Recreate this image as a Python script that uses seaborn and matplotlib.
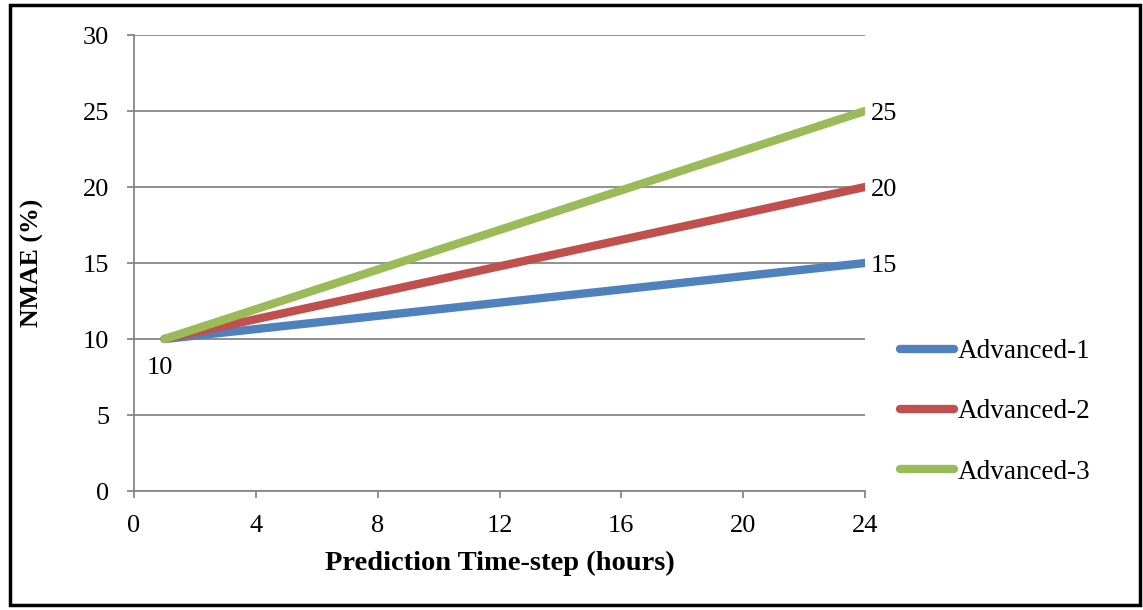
import matplotlib
matplotlib.use("Agg")
import matplotlib.pyplot as plt
import seaborn as sns
import pandas as pd
from matplotlib.patches import Rectangle
from matplotlib.lines import Line2D

# Data
x_hours = [1, 24]
series_names = ["Advanced-1", "Advanced-2", "Advanced-3"]
adv1 = [10, 15]
adv2 = [10, 20]
adv3 = [10, 25]
colors = ["#4F81BD", "#C0504D", "#9BBB59"]
x_ticks = [0, 4, 8, 12, 16, 20, 24]
y_ticks = [0, 5, 10, 15, 20, 25, 30]

rows = []
for name, vals in zip(series_names, [adv1, adv2, adv3]):
    for xv, yv in zip(x_hours, vals):
        rows.append({"x": xv, "y": yv, "series": name})
df = pd.DataFrame(rows)

sns.set_theme(style="white")
plt.rcParams["font.family"] = ["Liberation Serif", "DejaVu Serif"]
plt.rcParams["text.color"] = "black"

FS = 19
W, H = 1143, 610
fig = plt.figure(figsize=(W / 100, H / 100), dpi=100)
ax = fig.add_axes([134 / W, 1 - 491 / H, (865 - 134) / W, (491 - 35) / H])

sns.lineplot(data=df, x="x", y="y", hue="series", palette=colors, ax=ax,
             linewidth=6, solid_capstyle="round", legend=False)

ax.set_xlim(0, 24)
ax.set_ylim(0, 30)
ax.set_xticks(x_ticks)
ax.set_yticks(y_ticks)
grid_c = "#878787"
ax.yaxis.grid(True, color=grid_c, linewidth=1.3)
ax.set_axisbelow(True)
for s in ["top", "right"]:
    ax.spines[s].set_visible(False)
for s in ["left", "bottom"]:
    ax.spines[s].set_color(grid_c)
    ax.spines[s].set_linewidth(1.3)
ax.tick_params(axis="both", which="both", bottom=True, left=True, length=5, width=1.3,
               color=grid_c, direction="out", labelsize=FS, labelcolor="black")
ax.tick_params(axis="x", pad=12)
ax.tick_params(axis="y", pad=13)

ax.set_xlabel("Prediction Time-step (hours)", fontsize=20.5, fontweight="bold", color="black")
ax.set_ylabel("NMAE (%)", fontsize=18.5, fontweight="bold", color="black")
ax.xaxis.set_label_coords(0.5, (491 - 563) / 456)
ax.xaxis.label.set_va("center")
ax.yaxis.set_label_coords((32 - 134) / 731, 0.5)
ax.yaxis.label.set_va("center")

# Data labels
ax.annotate(str(adv1[0]), (x_hours[0], adv1[0]), xytext=(-3, -21), textcoords="offset points",
            ha="center", va="center", fontsize=FS)
for vals in [adv1, adv2, adv3]:
    ax.annotate(str(vals[-1]), (x_hours[-1], vals[-1]), xytext=(4, -2), textcoords="offset points",
                ha="left", va="center", fontsize=FS, annotation_clip=False)

# Legend
handles = [Line2D([0], [0], color=c, linewidth=6, solid_capstyle="round") for c in colors]
fig.legend(handles, series_names, loc="center left", bbox_to_anchor=(900 / W, 1 - 412 / H),
           frameon=False, fontsize=19.5, handlelength=2.0, handletextpad=0.12,
           labelspacing=1.3, borderpad=0, borderaxespad=0)

# Outer border
fig.patches.append(Rectangle((10 / W, 5 / H), 1130 / W, 600 / H, transform=fig.transFigure,
                             fill=False, edgecolor="black", linewidth=2.5))

fig.savefig("out.png", dpi=100)
